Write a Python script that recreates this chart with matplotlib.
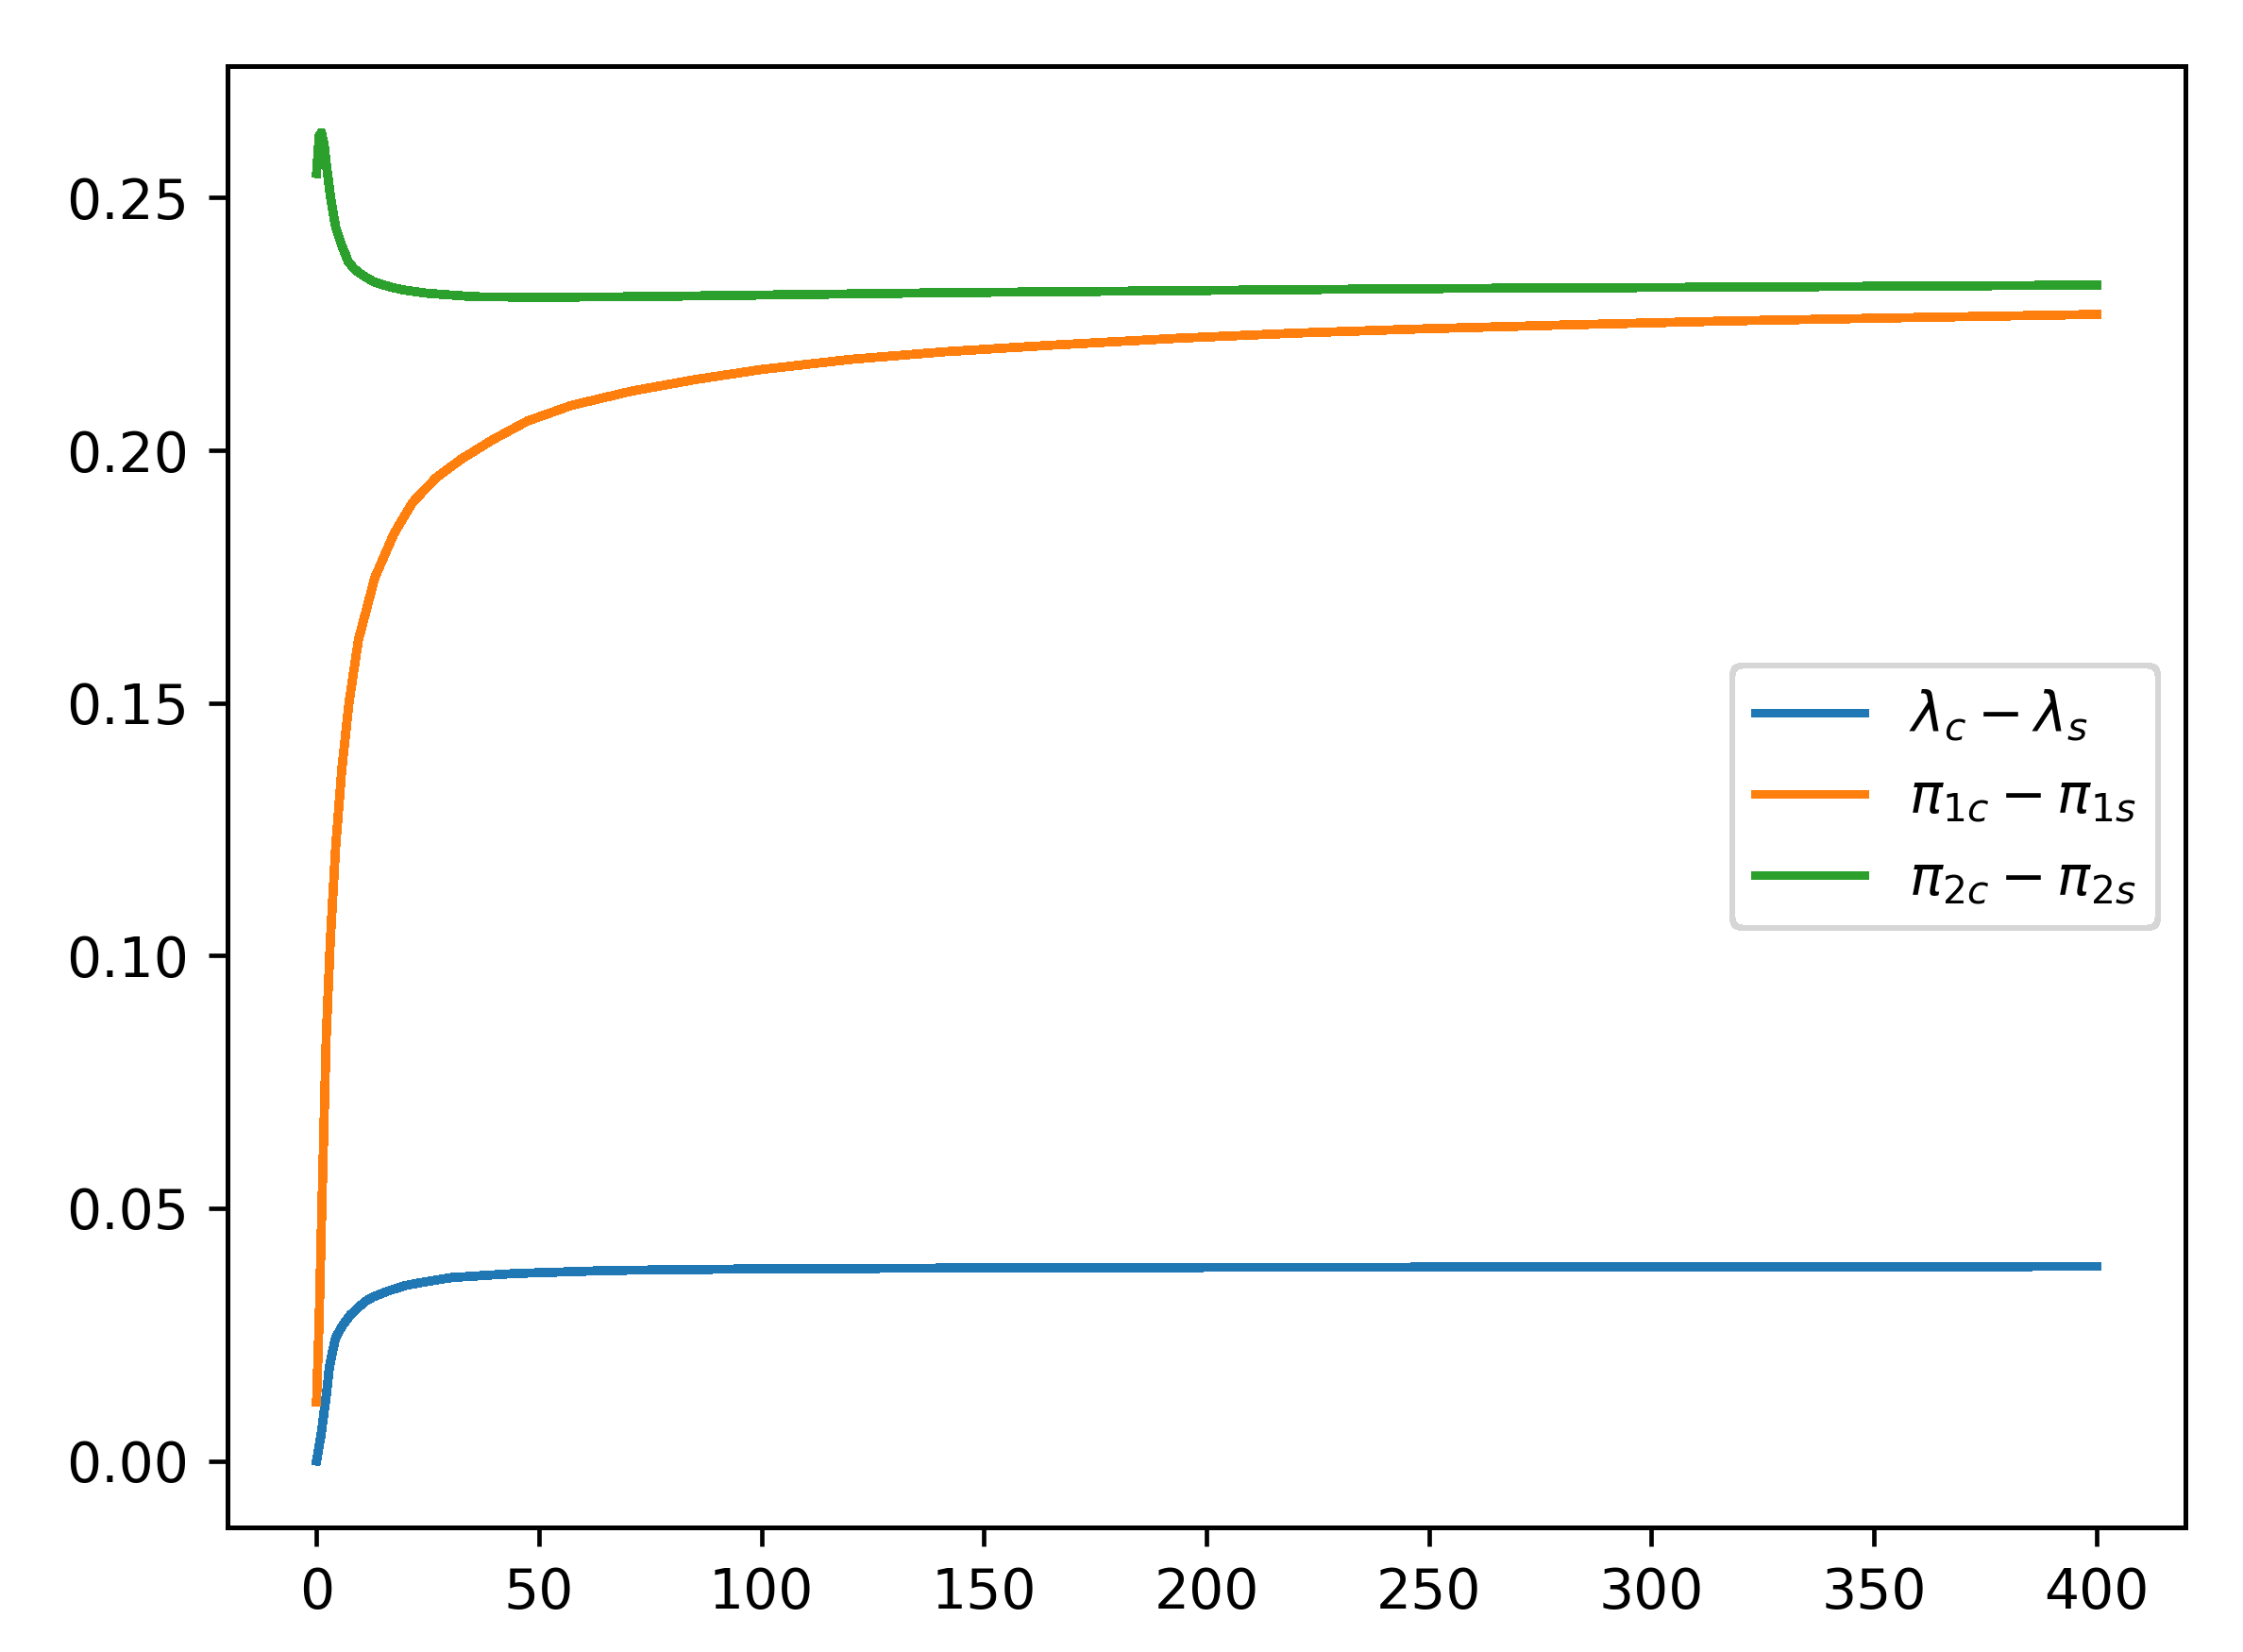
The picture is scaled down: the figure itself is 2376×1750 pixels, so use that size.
import matplotlib
matplotlib.use("Agg")
import matplotlib.pyplot as plt

# values
lam_x = [0, 1.0, 2.2, 2.9, 3.6, 4.3, 5.7, 7.5, 9.3, 11.0, 12.8, 16.3, 19.9, 23.4, 30.4, 44.6, 65.7,
         96.8, 150, 200, 300, 400]
lam_diff = [0.0, 0.0050, 0.0130, 0.0186, 0.0216, 0.0244, 0.0266, 0.0288, 0.0303, 0.0316, 0.0325, 0.0337,
            0.0347, 0.0353, 0.0363, 0.0371, 0.0377, 0.0380, 0.0382, 0.0383, 0.0384, 0.0385]

pi1_x = [0, 0.6, 1.2, 2.2, 3.1, 4.3, 5.7, 7.3, 9.4, 13.1, 17.4, 21.6, 26.9, 32.6, 39.6, 47.4, 57.3,
         70.7, 85, 100, 120, 141, 165, 194, 220, 247, 280, 317, 360, 400]
pi1_diff = [0.0117, 0.0280, 0.0500, 0.0843, 0.1029, 0.1215, 0.1370, 0.1500, 0.1624, 0.1748, 0.1835,
            0.1897, 0.1946, 0.1983, 0.2021, 0.2058, 0.2089, 0.2117, 0.2140, 0.2160, 0.2180, 0.2195,
            0.2208, 0.2222, 0.2232, 0.2240, 0.2248, 0.2256, 0.2263, 0.2269]

pi2_x = [0, 0.6, 1.1, 1.7, 2.2, 3.2, 4.3, 5.7, 6.4, 7.1, 8.2, 9.3, 11.0, 12.8, 15.5, 17.7, 19.8, 24.7,
         35.4, 49.5, 70.7, 141, 247, 317, 400]
pi2_diff = [0.2548, 0.2622, 0.2629, 0.2605, 0.2567, 0.2498, 0.2442, 0.2405, 0.2390, 0.2374, 0.2362,
            0.2353, 0.2343, 0.2334, 0.2326, 0.2321, 0.2317, 0.2311, 0.2304, 0.2303, 0.2304, 0.2312,
            0.2320, 0.2323, 0.2327]

labels = [r"$\lambda_c-\lambda_s$", r"$\pi_{1c}-\pi_{1s}$", r"$\pi_{2c}-\pi_{2s}$"]

plt.rcParams["lines.antialiased"] = False
plt.rcParams["patch.antialiased"] = False

dpi = 420
fig = plt.figure(figsize=(2376 / dpi, 1750 / dpi), dpi=dpi)
ax = fig.add_axes([241 / 2376, 1 - 1618 / 1750, 2074 / 2376, 1548 / 1750])

ax.plot(lam_x, lam_diff, label=labels[0])
ax.plot(pi1_x, pi1_diff, label=labels[1])
ax.plot(pi2_x, pi2_diff, label=labels[2])
ax.legend(loc="center right")

fig.savefig("out.png", dpi=dpi)
